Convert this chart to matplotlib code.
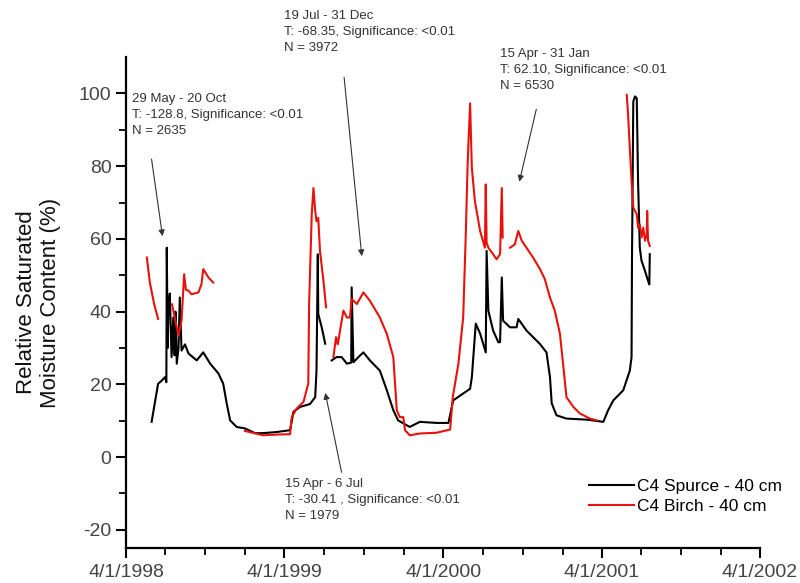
import numpy as np
import pandas as pd
import matplotlib
matplotlib.use('Agg')
import matplotlib.pyplot as plt
import matplotlib.dates as mdates

plt.rcParams['font.family'] = ['Liberation Sans', 'DejaVu Sans']
plt.rcParams['axes.unicode_minus'] = False

# days since 1 Apr 1998 (nan = gap in the logger record)
spruce_day = [59, 74, 82, 90, 93, 94, 96, 98, 101, 105, 109, 112, 114, 117, 121, 124, 128, 136, 144,
              163, 178, 194, 213, 224, 232, 240, 255, 274, 297, 316, 347, 378, 386, 401, 424, 436,
              439, 442, 443, 451, 459, np.nan,
              474, 485, 497, 509, 519, 520, 524, 539, 547, 562, 585, 601, 616, 627, 654, 677, 716,
              743, 754, 793, 797, 806, 816, 829, 831, 835, 846, 858, 862, 866, 869, 885, 900, 904,
              923, 954, 969, 977, 981, 992, 1015, 1062, 1100, 1111, 1123, 1146, 1161, 1165, 1166,
              1169, 1173, 1177, 1180, 1184, 1188, 1196, 1203, 1206, 1207]
spruce_val = [9.7, 20.2, 21, 22, 20.6, 57.6, 30, 42, 45, 27.5, 38.4, 28, 40, 25.7, 30, 43.9, 29.3, 31, 28.5,
              26.6, 28.8, 25.7, 23, 20.2, 14.8, 10.1, 8.3, 7.9, 6.6, 6.6, 6.9, 7.4, 12.5, 13.8, 14.6, 16.5,
              23.8, 55.8, 39.4, 35.7, 31.2, np.nan,
              26.6, 27.5, 27.5, 25.7, 26, 46.7, 26.1, 27.9, 28.8, 26.6, 23.8, 18.4, 12.9, 10.1, 8.3, 9.7, 9.4,
              9.4, 15.6, 18.8, 22, 36.7, 34, 28.8, 56.7, 40.3, 34.8, 31.6, 31.6, 49.4, 37.5, 35.7, 35.7, 38,
              34.8, 31.1, 28.8, 22, 14.8, 11.5, 10.6, 10.3, 9.7, 12.9, 15.6, 18.4, 23.8, 27.5, 54,
              97.8, 99.2, 98.7, 75.9, 57.6, 54, 51.2, 48.5, 47.5, 55.8]

birch_day = [48, 55, 65, 74, np.nan,
             106, 113, 121, 128, 134, 138, 144, 151, 167, 174, 178, 190, 201, np.nan,
             274, 316, 347, 378, 382, 393, 409, 420, 422, 428, 432, 436, 439, 443, 447, 455, 461, np.nan,
             478, 484, 488, 497, 501, 509, 516, 520, 532, 547, 562, 585, 601, 616, 624, 631, 639, 643,
             654, 677, 716, 747, 753, 766, 777, 783, 787, 789, 793, 795, 797, 804, 816, 827, 829, 831,
             835, 846, 854, 862, 866, 868, np.nan,
             885, 896, 904, 912, 938, 954, 965, 977, 988, 1000, 1008, 1015, 1031, 1046, 1069, 1085, np.nan,
             1154, 1157, 1161, 1165, 1169, 1177, 1180, 1184, 1188, 1192, 1196, 1200, 1201, 1203, 1207]
birch_val = [54.9, 48, 42, 38, np.nan,
             42, 38, 33.4, 37.5, 50.3, 46, 45.8, 44.8, 45.3, 47.6, 51.7, 49.4, 48, np.nan,
             7.2, 6, 6.2, 6.3, 11, 13.3, 15.2, 20.2, 42.1, 66.8, 74, 67.7, 64.9, 65.8, 56.7, 48.5, 41.2, np.nan,
             27.5, 33, 31, 37.5, 40.3, 38.4, 38.4, 43.5, 42.1, 45.3, 43, 38.4, 33.9, 27.5, 12.9, 11, 11, 7.4,
             6, 6.5, 6.7, 7.6, 16.5, 25.7, 38.4, 61.3, 79.5, 86, 97.3, 88, 79.5, 70.4, 62.2, 57.6, 75, 59,
             57.6, 55.8, 54.4, 55.8, 74, 60.4, np.nan,
             57.6, 58.5, 62.2, 59.5, 54.9, 51.7, 49, 43.9, 40.3, 33.9, 24.7, 16.5, 13.8, 12, 10.6, 10.1, np.nan,
             99.6, 94.2, 85, 75.9, 68.6, 66.8, 63.1, 64, 60.4, 63.1, 59.5, 61.3, 67.7, 59.5, 58.1]

# matplotlib date numbers (nan kept for gaps)
t0 = mdates.date2num(pd.Timestamp('1998-04-01'))
spruce_t = t0 + np.array(spruce_day)
birch_t = t0 + np.array(birch_day)

fig = plt.figure(figsize=(8, 5.83), dpi=100)
ax = fig.add_axes([0.1575, 0.06, 0.7925, 0.842])

ax.plot(spruce_t, spruce_val, color='black', lw=1.5, label='C4 Spurce - 40 cm')
ax.plot(birch_t, birch_val, color='#e8120c', lw=1.5, label='C4 Birch - 40 cm')

ax.set_xlim(mdates.date2num(pd.Timestamp('1998-04-01')), mdates.date2num(pd.Timestamp('2002-04-01')))
ax.set_ylim(-25, 110)
ax.set_yticks([-20, 0, 20, 40, 60, 80, 100])
ax.set_yticks(np.arange(-20, 110, 10), minor=True)
ax.xaxis.set_major_locator(mdates.MonthLocator(bymonth=4))
ax.xaxis.set_minor_locator(mdates.MonthLocator(bymonth=[1, 7, 10]))
ax.xaxis.set_major_formatter(plt.FuncFormatter(
    lambda v, p: '{0.month}/{0.day}/{0.year}'.format(mdates.num2date(v))))

for s in ['top', 'right']:
    ax.spines[s].set_visible(False)
for s in ['left', 'bottom']:
    ax.spines[s].set_linewidth(1.6)
ax.tick_params(which='major', direction='out', length=7, width=1.5, labelsize=14, labelcolor='#444444')
ax.tick_params(which='minor', direction='out', length=5, width=1.3)
ax.tick_params(axis='x', which='major', pad=4.5)

ax.set_ylabel('Relative Saturated\nMoisture Content (%)', fontsize=16, color='#111111', labelpad=13)

ax.legend(loc='lower right', bbox_to_anchor=(1.046, 0.055), frameon=False, fontsize=12.5,
          handlelength=2.6, handletextpad=0.2, labelspacing=0.3, borderaxespad=0)

# annotations: text blocks and arrows
notes = [
    (132, 93, '29 May - 20 Oct\nT: -128.8, Significance: <0.01\nN = 2635'),
    (284, 10, '19 Jul - 31 Dec\nT: -68.35, Significance: <0.01\nN = 3972'),
    (500, 48, '15 Apr - 31 Jan\nT: 62.10, Significance: <0.01\nN = 6530'),
    (285, 478, '15 Apr - 6 Jul\nT: -30.41 , Significance: <0.01\nN = 1979'),
]
for px, py, txt in notes:
    fig.text(px / 800, 1 - py / 583, txt, fontsize=9.5, color='#333333', va='top', ha='left',
             linespacing=1.42)

arrows = [((58, 82.7), (85, 60)), ((502, 105.2), (544, 54.5)),
          ((947, 96.4), (905, 75)), ((498, -4.9), (458, 18.4))]
for (d0, v0), (d1, v1) in arrows:
    ax.annotate('', xy=(t0 + d1, v1), xytext=(t0 + d0, v0),
                arrowprops=dict(arrowstyle='-|>', color='#333333', lw=0.8, mutation_scale=9),
                annotation_clip=False)

fig.savefig('out.png', dpi=100)
